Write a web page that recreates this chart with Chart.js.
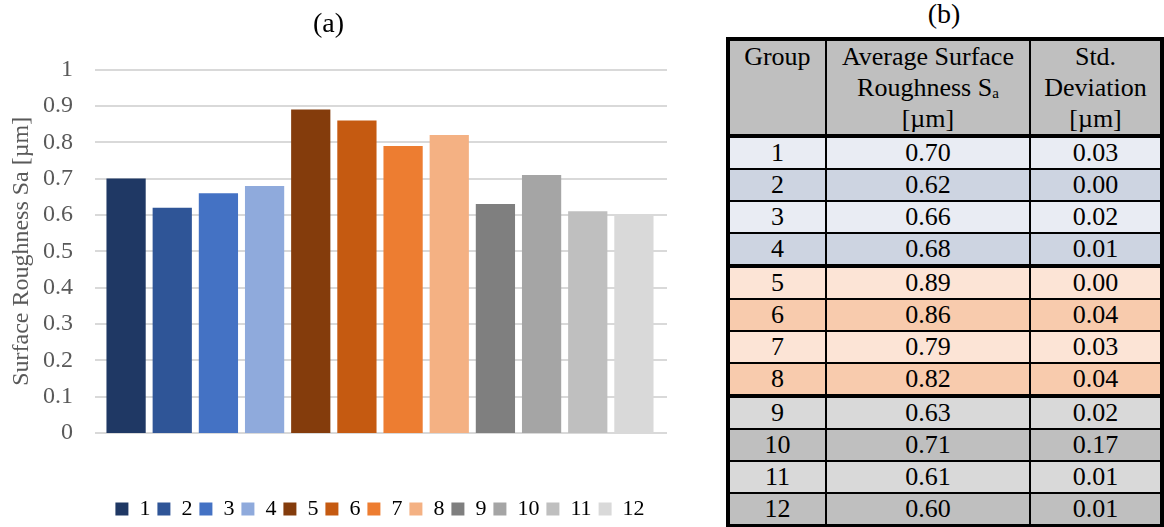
<!DOCTYPE html>
<html>
<head>
<meta charset="utf-8">
<script src="https://cdn.jsdelivr.net/npm/chart.js@4/dist/chart.umd.min.js"></script>
<style>
  body { margin: 0; background: #fff; width: 1164px; height: 527px; overflow: hidden; position: relative; font-family: 'Liberation Serif', 'DejaVu Serif', serif; }
  #chartBox { position: absolute; left: 0; top: 0; width: 700px; height: 527px; }
  #tableTitle { position: absolute; left: 904px; width: 80px; top: -2px; text-align: center; font-size: 28px; color: #000; }
  #tbl { position: absolute; left: 726px; top: 37px; border-collapse: collapse; border: 4px solid #000; font-size: 26px; color: #000; }
  #tbl td, #tbl th { border: 2px solid #000; text-align: center; padding: 0; height: 30px; line-height: 30px; font-weight: normal; }
  #tbl th { background: #bfbfbf; vertical-align: top; line-height: 31px; height: 90px; padding-top: 0; }
  #tbl tr.sep td { border-top: 4px solid #000; }
  #tbl sub { font-size: 15px; vertical-align: -2px; line-height: 0; }
</style>
</head>
<body>
<div id="chartBox"><canvas id="barChart"></canvas></div>
<div id="tableTitle">(b)</div>
<table id="tbl"></table>
<script>
// Datos del gráfico y la tabla
const groups = ["1", "2", "3", "4", "5", "6", "7", "8", "9", "10", "11", "12"];
const avgRoughness = [0.70, 0.62, 0.66, 0.68, 0.89, 0.86, 0.79, 0.82, 0.63, 0.71, 0.61, 0.60];
const stdDeviation = [0.03, 0.00, 0.02, 0.01, 0.00, 0.04, 0.03, 0.04, 0.02, 0.17, 0.01, 0.01];
const barColors = ["#1f3864", "#2f5597", "#4472c4", "#8faadc", "#843c0c", "#c55a11",
                   "#ed7d31", "#f4b183", "#7f7f7f", "#a5a5a5", "#bfbfbf", "#d9d9d9"];
const rowColors = ["#e9ecf3", "#cdd4e1", "#e9ecf3", "#cdd4e1", "#fce4d6", "#f8cbad",
                   "#fce4d6", "#f8cbad", "#d9d9d9", "#bfbfbf", "#d9d9d9", "#bfbfbf"];

// Tabla (b)
const tbl = document.getElementById("tbl");
let html = '<tr><th style="width:97px">Group</th>' +
           '<th style="width:209px">Average Surface<br>Roughness S<sub>a</sub><br>[µm]</th>' +
           '<th style="width:131px">Std.<br>Deviation<br>[µm]</th></tr>';
for (let i = 0; i < groups.length; i++) {
    const sep = (i === 0 || i === 4 || i === 8) ? ' class="sep"' : '';
    const bg = ' style="background:' + rowColors[i] + '"';
    html += '<tr' + sep + '><td' + bg + '>' + groups[i] + '</td><td' + bg + '>' +
            avgRoughness[i].toFixed(2) + '</td><td' + bg + '>' + stdDeviation[i].toFixed(2) + '</td></tr>';
}
tbl.innerHTML = html;

// Líneas de la cuadrícula un poco más anchas que el área de barras (como en Excel)
const wideGrid = {
    id: 'wideGrid',
    beforeDatasetsDraw(chart) {
        const y = chart.scales.y;
        const area = chart.chartArea;
        const c = chart.ctx;
        c.save();
        c.strokeStyle = '#d9d9d9';
        c.lineWidth = 2;
        y.ticks.forEach(t => {
            const py = Math.round(y.getPixelForValue(t.value));
            c.beginPath();
            c.moveTo(area.left - 8, py);
            c.lineTo(area.right + 10, py);
            c.stroke();
        });
        c.restore();
    }
};

// Gráfico (a)
const serif = "'Liberation Serif', 'DejaVu Serif', serif";
const ctx = document.getElementById("barChart").getContext("2d");
new Chart(ctx, {
    type: 'bar',
    data: {
        labels: groups,
        datasets: [{
            label: 'Sa',
            data: avgRoughness,
            backgroundColor: barColors,
            borderWidth: 0,
            barPercentage: 0.85,
            categoryPercentage: 1.0
        }]
    },
    plugins: [wideGrid],
    options: {
        responsive: true,
        maintainAspectRatio: false,
        animation: false,
        layout: { padding: { right: 43, bottom: -3 } },
        plugins: {
            title: {
                display: true,
                text: '(a)',
                color: '#000',
                font: { family: serif, size: 28, weight: 'normal' },
                padding: { top: 8, bottom: 28 }
            },
            legend: {
                position: 'bottom',
                fullSize: false,
                labels: {
                    boxWidth: 13,
                    boxHeight: 13,
                    padding: 7,
                    color: '#595959',
                    font: { family: serif, size: 22 },
                    generateLabels: function(chart) {
                        return groups.map((g, i) => ({
                            text: g,
                            fillStyle: barColors[i],
                            strokeStyle: barColors[i],
                            lineWidth: 0,
                            index: i
                        }));
                    }
                }
            },
            tooltip: { enabled: false }
        },
        scales: {
            x: {
                grid: { display: false },
                border: { display: false },
                ticks: { display: false },
                afterFit: function(scale) { scale.height = 58; }
            },
            y: {
                min: 0,
                max: 1,
                afterFit: function(scale) { scale.width = 103; },
                ticks: {
                    stepSize: 0.1,
                    color: '#595959',
                    font: { family: serif, size: 24 },
                    padding: 30,
                    callback: v => String(+v.toFixed(1))
                },
                grid: { display: false, drawTicks: false },
                border: { display: false },
                title: {
                    display: true,
                    text: 'Surface Roughness Sa [µm]',
                    color: '#595959',
                    font: { family: serif, size: 24 },
                    padding: { top: 7, bottom: 0 }
                }
            }
        }
    }
});
</script>
</body>
</html>
